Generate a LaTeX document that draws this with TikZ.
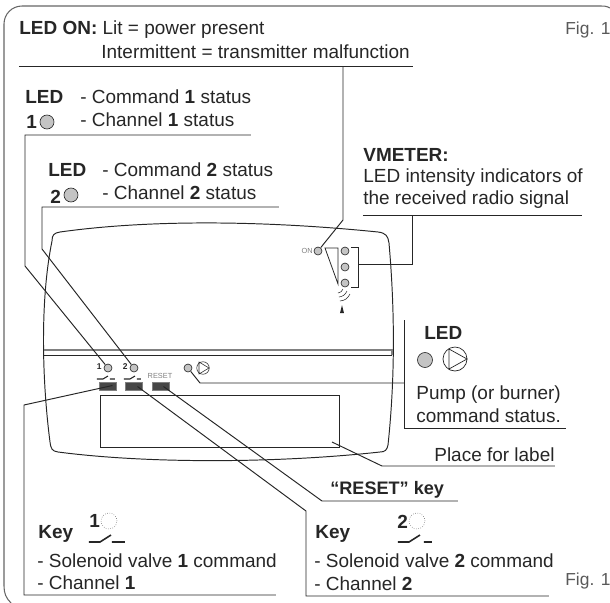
\documentclass[tikz,border=0pt]{standalone}
\usepackage{fontspec}
\setmainfont{Liberation Sans}
\definecolor{inkgray}{HTML}{262626}
\definecolor{ledgray}{HTML}{C4C4C4}
\tikzset{
  every node/.style={font=\fontsize{10.8}{12}\selectfont, text=inkgray, inner sep=0pt},
  txt/.style={anchor=west},
  figlabel/.style={anchor=west, font=\fontsize{9.9}{12}\selectfont, text=black!65},
  leader/.style={draw=inkgray, line width=0.55pt},
  led/.style={circle, draw=inkgray, fill=ledgray, line width=0.35pt, minimum size=#1},
  ghostled/.style={circle, draw=black!70, densely dotted, line width=0.3pt, minimum size=0.32cm},
  keybtn/.style={draw=gray, fill=black!72, minimum width=0.34cm, minimum height=0.17cm},
  tiny label/.style={font=\fontsize{4.2}{5}\selectfont, text=gray},
  panel num/.style={font=\bfseries\fontsize{4.8}{5}\selectfont, text=inkgray, anchor=east},
}
\begin{document}
\begin{tikzpicture}[x=0.02cm, y=-0.02cm]
  \useasboundingbox (0,0) rectangle (610,603);
  % frame
  \draw[gray!80!black, line width=0.6pt] (610,8) to[out=150, in=0] (600,6) -- (22,6) to[out=180, in=90] (4,24) -- (4,586) to[out=-90, in=135] (11,603);
  % device body
  \draw[inkgray, line width=0.55pt] (52,241) .. controls (52,235) and (54,233) .. (60,232) .. controls (160,218) and (280,222) .. (378,232) .. controls (386,233) and (388,236) .. (389,243) .. controls (394,300) and (396,370) .. (388,445) .. controls (387,450) and (385,452) .. (380,452) .. controls (280,463) and (150,464) .. (58,452) .. controls (52,451) and (51,449) .. (50,442) .. controls (42,380) and (40,300) .. (52,241);
  \draw[gray, line width=0.7pt] (44,350) -- (392,350) -- (392,355);
  \draw[inkgray, line width=0.55pt] (43,355) -- (392,355);
  \draw[inkgray, line width=0.5pt] (100,447) -- (100,395) -- (339,395) -- (339,447) -- cycle;

  % top texts
  \node[txt] (ledon) at (19,30) {\textbf{LED ON:}\ Lit = power present};
  \node[txt] (interm) at (101,52) {Intermittent = transmitter malfunction};
  \node[figlabel] (figtop) at (565,30) {Fig. 1};
  \node[figlabel] (figbot) at (565,581) {Fig. 1};

  \node[txt] (ledone) at (25,97) {\textbf{LED}};
  \node[txt] (cmdone) at (80,97) {- Command \textbf{1} status};
  \node[txt] (numone) at (26,122) {\textbf{1}};
  \node[led=0.28cm] (ledonesym) at (47,122) {};
  \node[txt] (chanone) at (80,120) {- Channel \textbf{1} status};

  \node[txt] (ledtwo) at (48,170) {\textbf{LED}};
  \node[txt] (cmdtwo) at (102,170) {- Command \textbf{2} status};
  \node[txt] (numtwo) at (50,197) {\textbf{2}};
  \node[led=0.28cm] (ledtwosym) at (71,195) {};
  \node[txt] (chantwo) at (102,193) {- Channel \textbf{2} status};

  \node[txt] (vmeter) at (363,155) {\textbf{VMETER:}};
  \node[txt] (vmone) at (363,178) {LED intensity indicators of};
  \node[txt] (vmtwo) at (363,200) {the received radio signal};

  \node[txt] (ledpump) at (424,333) {\textbf{LED}};
  \node[led=0.3cm] (pumpled) at (425,360) {};
  \node[circle, draw=inkgray, minimum size=0.48cm, line width=0.4pt] (pumpsym) at (455,359) {};
  \draw[inkgray, line width=0.4pt] (449,349) -- (449,369) -- (467,359) -- cycle;
  \node[txt] (pumpone) at (416,395) {Pump (or burner)};
  \node[txt] (pumptwo) at (416,416) {command status.};
  \node[txt] (place) at (434,455) {Place for label};
  \node[txt, font=\fontsize{10.3}{12}\selectfont] (resetkey) at (330,490) {\textbf{``RESET'' key}};

  % key 1 and key 2 legends
  \node[txt] (keyone) at (38,534) {\textbf{Key}};
  \node[txt] (keyonenum) at (89,521) {\textbf{1}};
  \node[ghostled] (keyoneled) at (109,521) {};
  \draw[inkgray, line width=0.9pt] (89,542) -- (100,542) -- (111,535) (112,542) -- (125,542);
  \node[txt] (valveone) at (37,561) {- Solenoid valve \textbf{1} command};
  \node[txt] (chankeyone) at (37,583) {- Channel \textbf{1}};
  \node[txt] (keytwo) at (315,534) {\textbf{Key}};
  \node[txt] (keytwonum) at (397,522) {\textbf{2}};
  \node[ghostled] (keytwoled) at (417,521) {};
  \draw[inkgray, line width=0.9pt] (398,542) -- (409,542) -- (420,535) (424,542) -- (432,542);
  \node[txt] (valvetwo) at (314,561) {- Solenoid valve \textbf{2} command};
  \node[txt] (chankeytwo) at (314,584) {- Channel \textbf{2}};

  % device panel
  \node[led=0.16cm] (onled) at (318,251) {};
  \node[tiny label, anchor=east] (onlbl) at (313,251) {ON};
  \node[led=0.16cm] (vmA) at (345,251) {};
  \node[led=0.16cm] (vmB) at (345,267) {};
  \node[led=0.16cm] (vmC) at (345,283) {};
  \draw[inkgray, line width=0.45pt] (325,248) -- (338,248) -- (338,284) -- cycle;
  \coordinate (brA) at (351,247);
  \coordinate (brB) at (351,287);
  \draw[inkgray, line width=0.45pt] (brA) -- (358,247) -- (358,287) -- (brB);
  \draw[inkgray, line width=0.3pt] (338,293) to[bend right=30] (343,289) (339,297) to[bend right=30] (347,291) (340,301) to[bend right=30] (350,294);
  \fill[inkgray] (342,305) -- (340,313) -- (344,313) -- cycle;

  \node[panel num] (pnlone) at (102,367) {1};
  \node[panel num] (pnltwo) at (128,367) {2};
  \node[led=0.16cm] (panelA) at (108,368) {};
  \node[led=0.16cm] (panelB) at (134,368) {};
  \node[led=0.16cm] (panelpump) at (188,368) {};
  \node[circle, draw=inkgray, minimum size=0.25cm, line width=0.3pt] (panelsym) at (203,368) {};
  \draw[inkgray, line width=0.3pt] (199,362) -- (199,374) -- (209,368) -- cycle;
  \node[tiny label] (resetlbl) at (160,376) {RESET};
  \draw[inkgray, line width=0.6pt] (97,379) -- (103,379) -- (108,376) (110,379) -- (115,379);
  \draw[inkgray, line width=0.6pt] (124,379) -- (130,379) -- (135,376) (137,379) -- (141,379);
  \node[keybtn] (btnone) at (107.5,386.5) {};
  \node[keybtn] (btntwo) at (133.5,386.5) {};
  \node[keybtn] (btnreset) at (160.5,386.5) {};

  % leaders
  \draw[leader] (19,66) -- (413,66);
  \coordinate (onturn) at (343,220);
  \draw[leader] (343,66) -- (onturn) -- (onled);
  \draw[leader] (251,135) -- (25,135) -- (25,266) -- (panelA);
  \draw[leader] (279,207) -- (42,207) -- (42,249) -- (panelB);
  \draw[leader] (363,215) -- (582,215);
  \draw[leader] (412,215) -- (412,264) -- (358,264);
  \draw[leader] (566,428) -- (404,428) -- (404,320);
  \draw[leader] (panelpump) -- (200,383) -- (404,383);
  \draw[leader] (332,442) -- (382,466) -- (555,466);
  \draw[leader] (btnreset.center) ++(3,0) -- (322,501) -- (458,501);
  \draw[leader] (btntwo.center) ++(4,0) -- (306,511) -- (306,596) -- (549,596);
  \draw[leader] (btnone.center) ++(5,-1) -- (24,405) -- (24,595) -- (276,595);
\end{tikzpicture}
\end{document}
